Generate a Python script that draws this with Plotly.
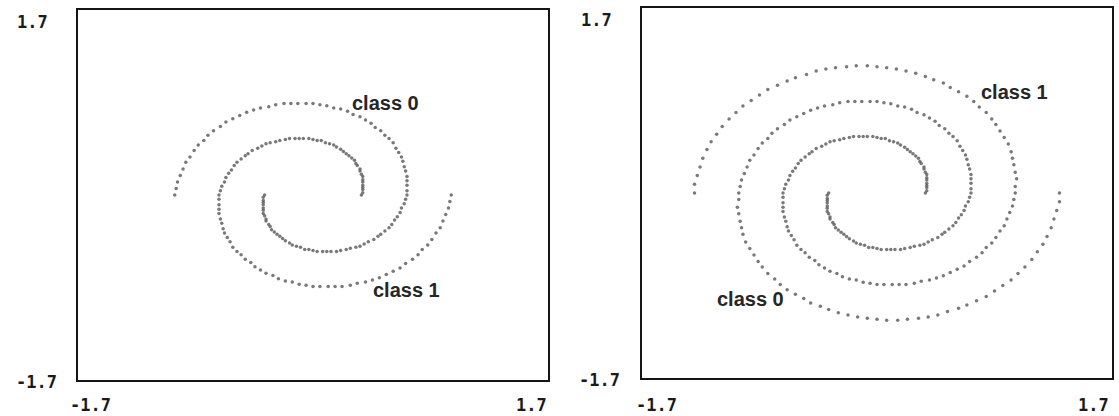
import plotly.graph_objects as go

# Two interleaved spirals; class 1 starts right of the origin, class 0 left of it.
# The right panel shows 151 samples per class, the left panel the first 101.
class1_x = [0.35, 0.36, 0.36, 0.36, 0.36, 0.36, 0.36, 0.36, 0.35, 0.34,
            0.34, 0.32, 0.31, 0.30, 0.28, 0.26, 0.24, 0.22, 0.20, 0.17,
            0.15, 0.12, 0.09, 0.06, 0.03, 0.00, -0.03, -0.07, -0.10, -0.13,
            -0.17, -0.20, -0.24, -0.27, -0.31, -0.34, -0.37, -0.40, -0.44, -0.47,
            -0.49, -0.52, -0.55, -0.57, -0.59, -0.61, -0.63, -0.64, -0.66, -0.67,
            -0.68, -0.68, -0.68, -0.68, -0.68, -0.67, -0.66, -0.65, -0.64, -0.62,
            -0.60, -0.58, -0.55, -0.52, -0.49, -0.45, -0.42, -0.38, -0.34, -0.29,
            -0.25, -0.20, -0.15, -0.10, -0.05, 0.00, 0.05, 0.11, 0.16, 0.21,
            0.27, 0.32, 0.38, 0.43, 0.48, 0.53, 0.58, 0.63, 0.67, 0.72,
            0.76, 0.79, 0.83, 0.86, 0.89, 0.92, 0.94, 0.96, 0.98, 0.99,
            1.00, 1.00, 1.01, 1.00, 0.99, 0.98, 0.97, 0.95, 0.92, 0.89,
            0.86, 0.83, 0.79, 0.74, 0.70, 0.65, 0.59, 0.53, 0.48, 0.41,
            0.35, 0.28, 0.21, 0.14, 0.07, 0.00, -0.07, -0.15, -0.22, -0.30,
            -0.37, -0.44, -0.51, -0.59, -0.65, -0.72, -0.79, -0.85, -0.91, -0.97,
            -1.02, -1.07, -1.12, -1.16, -1.20, -1.23, -1.26, -1.28, -1.30, -1.32,
            -1.32]
class1_y = [0.00, 0.02, 0.05, 0.07, 0.09, 0.12, 0.14, 0.17, 0.19, 0.22,
            0.24, 0.27, 0.29, 0.32, 0.34, 0.36, 0.38, 0.40, 0.42, 0.44,
            0.46, 0.47, 0.48, 0.50, 0.50, 0.51, 0.52, 0.52, 0.52, 0.52,
            0.52, 0.51, 0.50, 0.49, 0.48, 0.47, 0.45, 0.43, 0.41, 0.38,
            0.36, 0.33, 0.30, 0.27, 0.23, 0.20, 0.16, 0.12, 0.08, 0.04,
            0.00, -0.04, -0.09, -0.13, -0.17, -0.22, -0.26, -0.31, -0.35, -0.39,
            -0.43, -0.48, -0.52, -0.55, -0.59, -0.62, -0.66, -0.69, -0.72, -0.74,
            -0.77, -0.79, -0.80, -0.82, -0.83, -0.84, -0.84, -0.84, -0.84, -0.84,
            -0.83, -0.81, -0.80, -0.78, -0.76, -0.73, -0.70, -0.67, -0.63, -0.59,
            -0.55, -0.50, -0.46, -0.41, -0.35, -0.30, -0.24, -0.18, -0.12, -0.06,
            0.00, 0.06, 0.13, 0.19, 0.26, 0.32, 0.38, 0.45, 0.51, 0.57,
            0.63, 0.68, 0.74, 0.79, 0.84, 0.89, 0.93, 0.97, 1.01, 1.04,
            1.07, 1.10, 1.12, 1.14, 1.15, 1.16, 1.17, 1.17, 1.16, 1.15,
            1.14, 1.12, 1.09, 1.06, 1.03, 0.99, 0.95, 0.90, 0.85, 0.80,
            0.74, 0.68, 0.61, 0.54, 0.47, 0.40, 0.32, 0.24, 0.16, 0.08,
            0.00]
class0_x = [-0.35, -0.36, -0.36, -0.36, -0.36, -0.36, -0.36, -0.36, -0.35, -0.34,
            -0.34, -0.32, -0.31, -0.30, -0.28, -0.26, -0.24, -0.22, -0.20, -0.17,
            -0.15, -0.12, -0.09, -0.06, -0.03, 0.00, 0.03, 0.07, 0.10, 0.13,
            0.17, 0.20, 0.24, 0.27, 0.31, 0.34, 0.37, 0.40, 0.44, 0.47,
            0.49, 0.52, 0.55, 0.57, 0.59, 0.61, 0.63, 0.64, 0.66, 0.67,
            0.68, 0.68, 0.68, 0.68, 0.68, 0.67, 0.66, 0.65, 0.64, 0.62,
            0.60, 0.58, 0.55, 0.52, 0.49, 0.45, 0.42, 0.38, 0.34, 0.29,
            0.25, 0.20, 0.15, 0.10, 0.05, 0.00, -0.05, -0.11, -0.16, -0.21,
            -0.27, -0.32, -0.38, -0.43, -0.48, -0.53, -0.58, -0.63, -0.67, -0.72,
            -0.76, -0.79, -0.83, -0.86, -0.89, -0.92, -0.94, -0.96, -0.98, -0.99,
            -1.00, -1.00, -1.01, -1.00, -0.99, -0.98, -0.97, -0.95, -0.92, -0.89,
            -0.86, -0.83, -0.79, -0.74, -0.70, -0.65, -0.59, -0.53, -0.48, -0.41,
            -0.35, -0.28, -0.21, -0.14, -0.07, 0.00, 0.07, 0.15, 0.22, 0.30,
            0.37, 0.44, 0.51, 0.59, 0.65, 0.72, 0.79, 0.85, 0.91, 0.97,
            1.02, 1.07, 1.12, 1.16, 1.20, 1.23, 1.26, 1.28, 1.30, 1.32,
            1.32]
class0_y = [0.00, -0.02, -0.05, -0.07, -0.09, -0.12, -0.14, -0.17, -0.19, -0.22,
            -0.24, -0.27, -0.29, -0.32, -0.34, -0.36, -0.38, -0.40, -0.42, -0.44,
            -0.46, -0.47, -0.48, -0.50, -0.50, -0.51, -0.52, -0.52, -0.52, -0.52,
            -0.52, -0.51, -0.50, -0.49, -0.48, -0.47, -0.45, -0.43, -0.41, -0.38,
            -0.36, -0.33, -0.30, -0.27, -0.23, -0.20, -0.16, -0.12, -0.08, -0.04,
            0.00, 0.04, 0.09, 0.13, 0.17, 0.22, 0.26, 0.31, 0.35, 0.39,
            0.43, 0.48, 0.52, 0.55, 0.59, 0.62, 0.66, 0.69, 0.72, 0.74,
            0.77, 0.79, 0.80, 0.82, 0.83, 0.84, 0.84, 0.84, 0.84, 0.84,
            0.83, 0.81, 0.80, 0.78, 0.76, 0.73, 0.70, 0.67, 0.63, 0.59,
            0.55, 0.50, 0.46, 0.41, 0.35, 0.30, 0.24, 0.18, 0.12, 0.06,
            0.00, -0.06, -0.13, -0.19, -0.26, -0.32, -0.38, -0.45, -0.51, -0.57,
            -0.63, -0.68, -0.74, -0.79, -0.84, -0.89, -0.93, -0.97, -1.01, -1.04,
            -1.07, -1.10, -1.12, -1.14, -1.15, -1.16, -1.17, -1.17, -1.16, -1.15,
            -1.14, -1.12, -1.09, -1.06, -1.03, -0.99, -0.95, -0.90, -0.85, -0.80,
            -0.74, -0.68, -0.61, -0.54, -0.47, -0.40, -0.32, -0.24, -0.16, -0.08,
            0.00]

N_LEFT = 101                       # samples per class in the left panel
axis_range = [-1.7, 1.7]
tick_low, tick_high = "-1.7", "1.7"

W, H = 1119, 416
DOT = "#626262"
INK = "#1a1a1a"


def fx(px):
    return px / W


def fy(px):
    return 1 - px / H


fig = go.Figure()

panels = [
    ("x", "y", N_LEFT),
    ("x2", "y2", len(class1_x)),
]
for xa, ya, n in panels:
    for xs, ys in ((class0_x, class0_y), (class1_x, class1_y)):
        fig.add_trace(go.Scatter(
            x=xs[:n], y=ys[:n], xaxis=xa, yaxis=ya, mode="markers",
            marker=dict(size=3.5, color=DOT, opacity=0.85, line=dict(width=0)),
            hoverinfo="skip", showlegend=False,
        ))

frame = dict(range=axis_range, showgrid=False, zeroline=False,
             showticklabels=False, ticks="", showline=True, mirror=True,
             linecolor="#151515", linewidth=2, fixedrange=True)

fig.update_layout(
    width=W, height=H,
    margin=dict(l=0, r=0, t=0, b=0),
    paper_bgcolor="white", plot_bgcolor="white",
    showlegend=False,
    xaxis=dict(domain=[fx(78), fx(548)], anchor="y", **frame),
    yaxis=dict(domain=[fy(380), fy(10)], anchor="x", **frame),
    xaxis2=dict(domain=[fx(642), fx(1112)], anchor="y2", **frame),
    yaxis2=dict(domain=[fy(378), fy(8)], anchor="x2", **frame),
)

tick_font = dict(family="DejaVu Sans Mono, Liberation Mono, monospace",
                 size=17, color=INK)
label_font = dict(family="Liberation Sans, Arial, sans-serif",
                  size=20, color="#262626")

annotations = []


def tick(text, x, y, xanchor):
    annotations.append(dict(text="<b>%s</b>" % text, x=fx(x), y=fy(y),
                            xref="paper", yref="paper", xanchor=xanchor,
                            yanchor="middle", showarrow=False, font=tick_font))


# left panel tick labels
tick(tick_high, 50, 22, "right")
tick(tick_low, 59, 382, "right")
tick(tick_low, 68, 405, "left")
tick(tick_high, 549, 405, "right")
# right panel tick labels
tick(tick_high, 614, 20, "right")
tick(tick_low, 622, 380, "right")
tick(tick_low, 634, 405, "left")
tick(tick_high, 1111, 405, "right")


def label(text, xref, yref, x, y):
    annotations.append(dict(text="<b>%s</b>" % text, x=x, y=y, xref=xref,
                            yref=yref, xanchor="left", yanchor="middle",
                            showarrow=False, font=label_font))


label("class 0", "x", "y", 0.27, 0.85)
label("class 1", "x", "y", 0.42, -0.87)
label("class 1", "x2", "y2", 0.74, 0.93)
label("class 0", "x2", "y2", -1.17, -0.97)

fig.update_layout(annotations=annotations)

fig.write_html("out.html")
